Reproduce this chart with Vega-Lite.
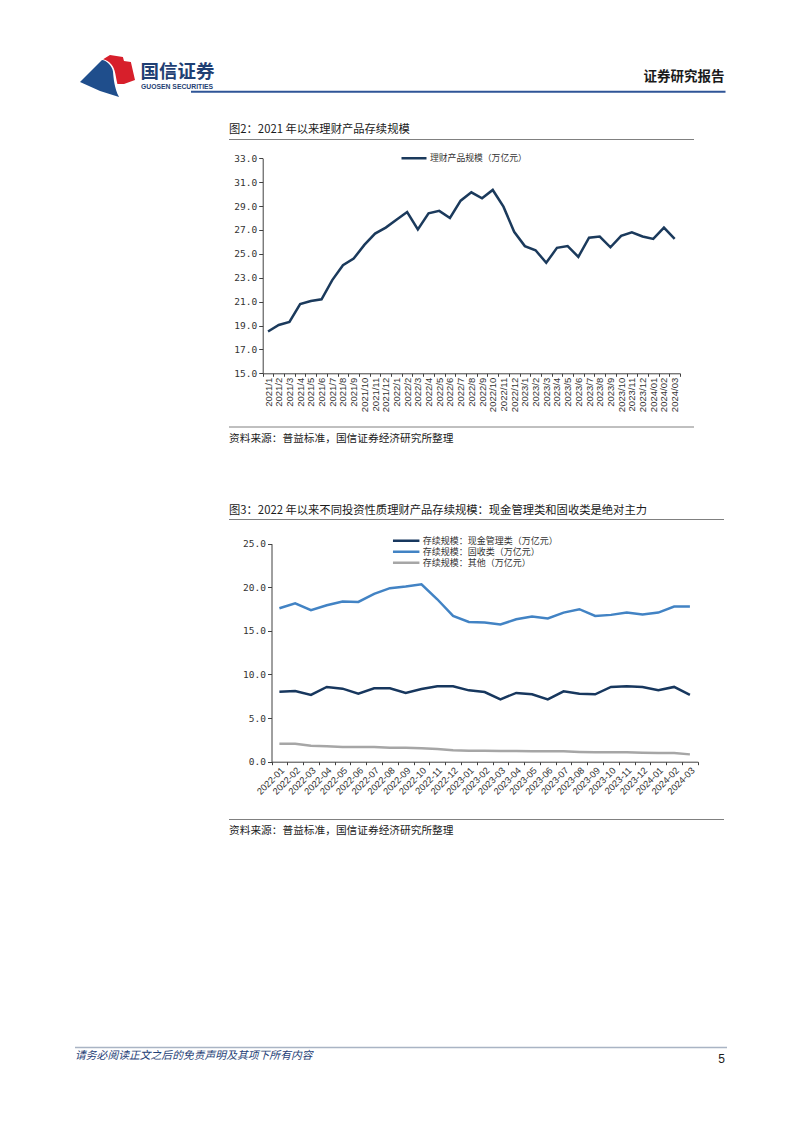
{
  "$schema": "https://vega.github.io/schema/vega-lite/v6.json",
  "width": 802,
  "height": 1133,
  "autosize": {"type": "none"},
  "padding": 0,
  "background": "#ffffff",
  "config": {
    "view": {"stroke": null},
    "axis": {"grid": false, "title": null, "domainColor": "#404040", "tickColor": "#404040", "labelColor": "#333333", "domainWidth": 1, "tickWidth": 1, "labelOverlap": false},
    "legend": {"padding": 0}
  },
  "datasets": {
    "c1": [
      {"m": "2021/1", "v": 18.5}, {"m": "2021/2", "v": 19.05}, {"m": "2021/3", "v": 19.3}, {"m": "2021/4", "v": 20.8},
      {"m": "2021/5", "v": 21.05}, {"m": "2021/6", "v": 21.2}, {"m": "2021/7", "v": 22.8}, {"m": "2021/8", "v": 24.05},
      {"m": "2021/9", "v": 24.6}, {"m": "2021/10", "v": 25.75}, {"m": "2021/11", "v": 26.7}, {"m": "2021/12", "v": 27.2},
      {"m": "2022/1", "v": 27.85}, {"m": "2022/2", "v": 28.5}, {"m": "2022/3", "v": 27.05}, {"m": "2022/4", "v": 28.4},
      {"m": "2022/5", "v": 28.6}, {"m": "2022/6", "v": 28.0}, {"m": "2022/7", "v": 29.45}, {"m": "2022/8", "v": 30.15},
      {"m": "2022/9", "v": 29.65}, {"m": "2022/10", "v": 30.35}, {"m": "2022/11", "v": 28.95}, {"m": "2022/12", "v": 26.85},
      {"m": "2023/1", "v": 25.65}, {"m": "2023/2", "v": 25.3}, {"m": "2023/3", "v": 24.25}, {"m": "2023/4", "v": 25.5},
      {"m": "2023/5", "v": 25.65}, {"m": "2023/6", "v": 24.75}, {"m": "2023/7", "v": 26.35}, {"m": "2023/8", "v": 26.45},
      {"m": "2023/9", "v": 25.55}, {"m": "2023/10", "v": 26.5}, {"m": "2023/11", "v": 26.8}, {"m": "2023/12", "v": 26.45},
      {"m": "2024/01", "v": 26.25}, {"m": "2024/02", "v": 27.2}, {"m": "2024/03", "v": 26.25}
    ],
    "c2": [
      {"m": "2022-01", "现金管理类": 8.03, "固收类": 17.59, "其他": 2.06},
      {"m": "2022-02", "现金管理类": 8.11, "固收类": 18.16, "其他": 2.06},
      {"m": "2022-03", "现金管理类": 7.65, "固收类": 17.36, "其他": 1.84},
      {"m": "2022-04", "现金管理类": 8.57, "固收类": 17.93, "其他": 1.76},
      {"m": "2022-05", "现金管理类": 8.37, "固收类": 18.36, "其他": 1.68},
      {"m": "2022-06", "现金管理类": 7.8, "固收类": 18.32, "其他": 1.68},
      {"m": "2022-07", "现金管理类": 8.41, "固收类": 19.23, "其他": 1.68},
      {"m": "2022-08", "现金管理类": 8.41, "固收类": 19.89, "其他": 1.61},
      {"m": "2022-09", "现金管理类": 7.88, "固收类": 20.08, "其他": 1.61},
      {"m": "2022-10", "现金管理类": 8.34, "固收类": 20.34, "其他": 1.53},
      {"m": "2022-11", "现金管理类": 8.64, "固收类": 18.62, "其他": 1.45},
      {"m": "2022-12", "现金管理类": 8.64, "固收类": 16.71, "其他": 1.3},
      {"m": "2023-01", "现金管理类": 8.18, "固收类": 16.02, "其他": 1.26},
      {"m": "2023-02", "现金管理类": 7.99, "固收类": 15.95, "其他": 1.26},
      {"m": "2023-03", "现金管理类": 7.15, "固收类": 15.72, "其他": 1.22},
      {"m": "2023-04", "现金管理类": 7.88, "固收类": 16.33, "其他": 1.22},
      {"m": "2023-05", "现金管理类": 7.72, "固收类": 16.63, "其他": 1.19},
      {"m": "2023-06", "现金管理类": 7.15, "固收类": 16.41, "其他": 1.19},
      {"m": "2023-07", "现金管理类": 8.07, "固收类": 17.09, "其他": 1.19},
      {"m": "2023-08", "现金管理类": 7.8, "固收类": 17.48, "其他": 1.11},
      {"m": "2023-09", "现金管理类": 7.72, "固收类": 16.71, "其他": 1.07},
      {"m": "2023-10", "现金管理类": 8.57, "固收类": 16.83, "其他": 1.07},
      {"m": "2023-11", "现金管理类": 8.64, "固收类": 17.09, "其他": 1.07},
      {"m": "2023-12", "现金管理类": 8.57, "固收类": 16.86, "其他": 1.03},
      {"m": "2024-01", "现金管理类": 8.18, "固收类": 17.09, "其他": 0.99},
      {"m": "2024-02", "现金管理类": 8.57, "固收类": 17.78, "其他": 0.99},
      {"m": "2024-03", "现金管理类": 7.65, "固收类": 17.78, "其他": 0.84}
    ]
  },
  "layer": [
    {
      "data": {"values": [{}]},
      "mark": {"type": "point", "filled": true, "opacity": 1, "size": 3025, "color": "#1f4e8c", "strokeWidth": 0,
        "shape": "M -1 0.18 L -0.2 -0.62 C -0.05 -0.62 0.18 -0.4 0.2 -0.2 C 0.22 0.05 0.25 0.4 0.42 0.73 L -0.27 0.51 Z"},
      "encoding": {"x": {"value": 107.5}, "y": {"value": 77}}
    },
    {
      "data": {"values": [{}]},
      "mark": {"type": "point", "filled": true, "opacity": 1, "size": 3025, "color": "#d71f2b", "strokeWidth": 0,
        "shape": "M -0.16 -0.65 L 0.09 -0.8 L 0.56 -0.73 L 0.6 -0.58 L 0.85 -0.55 L 1 0.11 L 0.6 0.25 L 0.36 0.25 C 0.3 0 0.28 -0.3 0.15 -0.45 C 0.05 -0.58 -0.05 -0.62 -0.16 -0.65 Z"},
      "encoding": {"x": {"value": 107.5}, "y": {"value": 77}}
    },
    {
      "data": {"values": [{}]},
      "mark": {"type": "text", "text": "国信证券", "align": "left", "baseline": "middle", "font": "Noto Sans CJK SC", "fontSize": 18.5, "fontWeight": "bold", "color": "#1f3f73"},
      "encoding": {"x": {"value": 140.5}, "y": {"value": 72}}
    },
    {
      "data": {"values": [{}]},
      "mark": {"type": "text", "text": "GUOSEN SECURITIES", "align": "left", "baseline": "middle", "font": "Liberation Sans", "fontSize": 6.8, "fontWeight": "bold", "color": "#1f3f73"},
      "encoding": {"x": {"value": 141}, "y": {"value": 86.5}}
    },
    {
      "data": {"values": [{}]},
      "mark": {"type": "text", "text": "证券研究报告", "align": "right", "baseline": "middle", "font": "Noto Sans CJK SC", "fontSize": 13.5, "fontWeight": "bold", "color": "#1a1a1a"},
      "encoding": {"x": {"value": 724.5}, "y": {"value": 77}}
    },
    {
      "data": {"values": [{}]},
      "mark": {"type": "rule", "color": "#2f5597", "strokeWidth": 2},
      "encoding": {"x": {"value": 191}, "x2": {"value": 725.5}, "y": {"value": 91.7}}
    },
    {
      "data": {"values": [{}]},
      "mark": {"type": "text", "text": "图2：2021 年以来理财产品存续规模", "align": "left", "baseline": "middle", "font": "Noto Sans CJK SC", "fontSize": 11.3, "color": "#1a1a1a"},
      "encoding": {"x": {"value": 229}, "y": {"value": 130}}
    },
    {
      "data": {"values": [{}]},
      "mark": {"type": "rule", "color": "#808080", "strokeWidth": 1},
      "encoding": {"x": {"value": 229}, "x2": {"value": 694}, "y": {"value": 139.5}}
    },
    {
      "data": {"values": [{}]},
      "mark": {"type": "rule", "color": "#808080", "strokeWidth": 1},
      "encoding": {"x": {"value": 229}, "x2": {"value": 694}, "y": {"value": 427}}
    },
    {
      "data": {"values": [{}]},
      "mark": {"type": "text", "text": "资料来源：普益标准，国信证券经济研究所整理", "align": "left", "baseline": "middle", "font": "Noto Sans CJK SC", "fontSize": 10.7, "color": "#1a1a1a"},
      "encoding": {"x": {"value": 229}, "y": {"value": 439}}
    },
    {
      "data": {"values": [{}]},
      "mark": {"type": "text", "text": "图3：2022 年以来不同投资性质理财产品存续规模：现金管理类和固收类是绝对主力", "align": "left", "baseline": "middle", "font": "Noto Sans CJK SC", "fontSize": 11.3, "color": "#1a1a1a"},
      "encoding": {"x": {"value": 229}, "y": {"value": 510.5}}
    },
    {
      "data": {"values": [{}]},
      "mark": {"type": "rule", "color": "#808080", "strokeWidth": 1},
      "encoding": {"x": {"value": 229}, "x2": {"value": 724}, "y": {"value": 519.5}}
    },
    {
      "data": {"values": [{}]},
      "mark": {"type": "rule", "color": "#808080", "strokeWidth": 1},
      "encoding": {"x": {"value": 229}, "x2": {"value": 724}, "y": {"value": 819.5}}
    },
    {
      "data": {"values": [{}]},
      "mark": {"type": "text", "text": "资料来源：普益标准，国信证券经济研究所整理", "align": "left", "baseline": "middle", "font": "Noto Sans CJK SC", "fontSize": 10.7, "color": "#1a1a1a"},
      "encoding": {"x": {"value": 229}, "y": {"value": 831}}
    },
    {
      "data": {"values": [{}]},
      "mark": {"type": "rule", "color": "#a9b4c4", "strokeWidth": 1.5},
      "encoding": {"x": {"value": 75}, "x2": {"value": 727}, "y": {"value": 1047.5}}
    },
    {
      "data": {"values": [{}]},
      "mark": {"type": "text", "text": "请务必阅读正文之后的免责声明及其项下所有内容", "align": "left", "baseline": "middle", "font": "Noto Sans CJK SC", "fontSize": 10.8, "fontStyle": "italic", "color": "#1f3f77"},
      "encoding": {"x": {"value": 75}, "y": {"value": 1056}}
    },
    {
      "data": {"values": [{}]},
      "mark": {"type": "text", "text": "5", "align": "right", "baseline": "middle", "font": "Liberation Sans", "fontSize": 12, "color": "#1a1a1a"},
      "encoding": {"x": {"value": 725}, "y": {"value": 1059}}
    },
    {
      "data": {"name": "c1"},
      "mark": {"type": "line", "strokeWidth": 2.5},
      "encoding": {
        "x": {"field": "m", "type": "ordinal", "sort": null,
          "scale": {"type": "band", "range": [262.7, 680], "paddingInner": 0, "paddingOuter": 0},
          "axis": {"orient": "bottom", "offset": -759.7, "labelAngle": -90, "tickBand": "extent", "tickSize": 3, "labelPadding": 1, "labelFont": "Liberation Sans", "labelFontSize": 9.5, "title": null}},
        "y": {"field": "v", "type": "quantitative",
          "scale": {"domain": [15, 33], "range": [373.3, 158.3], "nice": false, "zero": false},
          "axis": {"orient": "left", "offset": -262.7, "values": [15, 17, 19, 21, 23, 25, 27, 29, 31, 33], "format": ".1f", "tickSize": 4, "labelPadding": 2, "labelFont": "DejaVu Sans Mono", "labelFontSize": 9.5, "title": null}},
        "color": {"datum": "理财产品规模（万亿元）", "type": "nominal",
          "scale": {"range": ["#1b3a5c"]},
          "legend": {"orient": "none", "legendX": 400, "legendY": 152.8, "title": null, "symbolType": "stroke", "symbolSize": 625, "symbolStrokeWidth": 2.5, "clipHeight": 11, "labelFont": "Noto Sans CJK SC", "labelFontSize": 8.8, "labelColor": "#333333", "labelOffset": 2, "padding": 0}}
      }
    },
    {
      "data": {"name": "c2"},
      "transform": [{"fold": ["现金管理类", "固收类", "其他"], "as": ["s", "v"]}],
      "mark": {"type": "line", "strokeWidth": 2.5},
      "encoding": {
        "x": {"field": "m", "type": "ordinal",
          "scale": {"type": "band", "range": [271.5, 697.8], "paddingInner": 0, "paddingOuter": 0},
          "axis": {"orient": "bottom", "offset": -371.3, "labelAngle": -45, "tickBand": "extent", "tickSize": 3, "labelPadding": 1, "labelFont": "Liberation Sans", "labelFontSize": 9.3, "title": null}},
        "y": {"field": "v", "type": "quantitative",
          "scale": {"domain": [0, 25], "range": [761.7, 543.6], "nice": false},
          "axis": {"orient": "left", "offset": -271.5, "values": [0, 5, 10, 15, 20, 25], "format": ".1f", "tickSize": 4, "labelPadding": 2, "labelFont": "DejaVu Sans Mono", "labelFontSize": 9.5, "title": null}},
        "color": {"field": "s", "type": "nominal",
          "scale": {"domain": ["现金管理类", "固收类", "其他"], "range": ["#17375e", "#4283c4", "#a6a6a6"]},
          "legend": {"orient": "none", "legendX": 391.7, "legendY": 535.3, "title": null, "symbolType": "stroke", "symbolSize": 700, "symbolStrokeWidth": 2.5, "clipHeight": 10.8, "rowPadding": 0, "labelFont": "Noto Sans CJK SC", "labelFontSize": 9, "labelColor": "#333333", "labelOffset": 2, "padding": 0,
            "labelExpr": "'存续规模：' + datum.label + '（万亿元）'"}}
      }
    }
  ],
  "resolve": {
    "scale": {"x": "independent", "y": "independent", "color": "independent"},
    "axis": {"x": "independent", "y": "independent"},
    "legend": {"color": "independent"}
  }
}
